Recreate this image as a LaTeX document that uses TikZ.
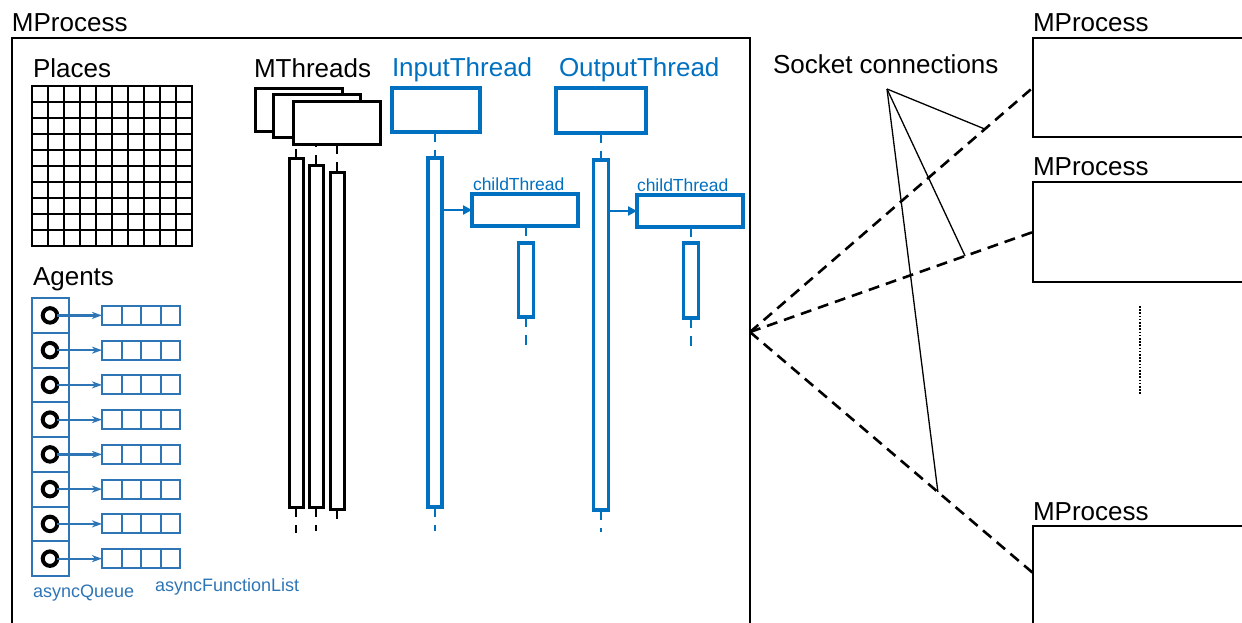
\documentclass[tikz,border=0pt]{standalone}
\usepackage{fontspec}
\setmainfont{Liberation Sans}
\usetikzlibrary{arrows.meta,calc,backgrounds}
\definecolor{thr}{HTML}{0070C0}
\definecolor{agt}{HTML}{2E75B6}

\begin{document}
\begin{tikzpicture}[x=1pt,y=-1pt,
  every node/.style={inner sep=0pt, outer sep=0pt},
  heading/.style={anchor=base west, font=\fontsize{26}{30}\selectfont},
  smalllabel/.style={anchor=base west, font=\fontsize{18}{20}\selectfont},
  procbox/.style={draw, line width=2.5pt, rectangle, anchor=north west},
  mthread/.style={draw, line width=3pt, fill=white, rectangle, minimum width=87pt, minimum height=43pt},
  mbar/.style={draw, line width=3pt, fill=white, rectangle, minimum width=14pt},
  tbox/.style={draw=thr, line width=3.5pt, fill=white, rectangle},
  tbar/.style={draw=thr, line width=3.5pt, fill=white, rectangle, minimum width=14pt},
  lifeK/.style={line width=2.5pt, dash pattern=on 10pt off 8pt},
  lifeB/.style={draw=thr, line width=2.5pt, dash pattern=on 10pt off 8pt},
  spawn/.style={draw=thr, line width=2.5pt, -{Triangle[length=9pt,width=9pt]}},
  gridline/.style={line width=2.5pt, line cap=rect},
  agtline/.style={draw=agt, line width=2pt},
  agentdot/.style={circle, draw, line width=4pt, minimum size=14.5pt, fill=white},
  fnlist/.style={draw=agt, line width=2pt, rectangle, minimum width=78pt, minimum height=19pt},
  agtarrow/.style={draw=agt, line width=2.2pt, -{Stealth[length=10pt,width=7pt,inset=3pt]}},
  socket/.style={line width=2.6pt, dash pattern=on 11pt off 7pt},
  callout/.style={line width=1.3pt},
]
\useasboundingbox (0,0) rectangle (1242,622);
\clip (0,0) rectangle (1242,622);

% ---------- local process ----------
\node[heading] (mpl) at (12,31) {MProcess};
\node[procbox, minimum width=738pt, minimum height=640pt] (main) at (12,38) {};

% Places grid
\node[heading] (places) at (33,77) {Places};
\foreach \i in {0,...,10} {
  \draw[gridline] ({32+\i*16},86) -- ({32+\i*16},246);
  \draw[gridline] (32,{86+\i*16}) -- (192,{86+\i*16});
}

% Agents with their queues and function lists
\node[heading] (agents) at (33,285) {Agents};
\foreach \i in {0,...,7} {
  \pgfmathsetmacro\yc{315.4+34.75*\i}
  \draw[agtline] (32,{298+34.75*\i}) rectangle (69,{298+34.75*(\i+1)});
  \node[agentdot] (q\i) at (50,\yc) {};
  \node[fnlist, anchor=west] (l\i) at (102,\yc) {};
  \foreach \k in {1,2,3}
    \draw[agtline] ($(l\i.south west)+(19.5*\k,0)$) -- ($(l\i.north west)+(19.5*\k,0)$);
  \draw[agtarrow] (q\i.east) -- (l\i.west);
}
\node[smalllabel, text=agt] (aq) at (33,597) {asyncQueue};
\node[smalllabel, text=agt] (afl) at (155,591) {asyncFunctionList};

% MThreads
\node[heading] (mthl) at (254,77) {MThreads};
\node[mthread] (mt1) at (298.5,109.5) {};
\node[mthread] (mt2) at (316.5,115.5) {};
\node[mthread] (mt3) at (336.5,122.5) {};
\node[mbar, minimum height=349pt] (b1) at (296,332.5) {};
\node[mbar, minimum height=342pt] (b2) at (316,336) {};
\node[mbar, minimum height=337pt] (b3) at (337,340.5) {};
\coordinate (e1) at (296,533);
\coordinate (e2) at (316,531);
\coordinate (e3) at (337,525);
\begin{scope}[on background layer]
  \draw[lifeK] (mt1.south -| b1.north) -- (b1.north);
  \draw[lifeK] (mt2.south -| b2.north) -- (b2.north);
  \draw[lifeK] (mt3.south -| b3.north) -- (b3.north);
\end{scope}
\draw[lifeK] (b1.south) -- (e1);
\draw[lifeK] (b2.south) -- (e2);
\draw[lifeK] (b3.south) -- (e3);

% InputThread and its child
\node[heading, text=thr] (itl) at (392,76) {InputThread};
\node[tbox, minimum width=88pt, minimum height=44pt] (it) at (436,110) {};
\node[tbar, minimum height=349pt] (ib) at (435,332.5) {};
\coordinate (ie) at (435,531);
\draw[lifeB] (it.south -| ib.north) -- (ib.north);
\draw[lifeB] (ib.south) -- (ie);
\node[smalllabel, text=thr, font=\fontsize{17.5}{20}\selectfont] (c1l) at (473,190) {childThread};
\node[tbox, minimum width=106pt, minimum height=32pt] (c1) at (525,210) {};
\draw[spawn] (ib.east |- c1.west) -- (c1.west);
\node[tbar, minimum width=15pt, minimum height=74pt] (cb1) at (526,280) {};
\coordinate (c1e) at (526,346);
\draw[lifeB] (c1.south -| cb1.north) -- (cb1.north);
\draw[lifeB] (cb1.south) -- (c1e);

% OutputThread and its child
\node[heading, text=thr] (otl) at (559,76) {OutputThread};
\node[tbox, minimum width=90pt, minimum height=45pt] (ot) at (601,110.5) {};
\node[tbar, minimum width=15pt, minimum height=350pt] (ob) at (601,335) {};
\coordinate (oe) at (601,532);
\draw[lifeB] (ot.south -| ob.north) -- (ob.north);
\draw[lifeB] (ob.south) -- (oe);
\node[smalllabel, text=thr, font=\fontsize{17.5}{20}\selectfont] (c2l) at (637,191) {childThread};
\node[tbox, minimum width=106pt, minimum height=32pt] (c2) at (690,211) {};
\draw[spawn] (ob.east |- c2.west) -- (c2.west);
\node[tbar, minimum width=15pt, minimum height=75pt] (cb2) at (691,280.5) {};
\coordinate (c2e) at (691,346);
\draw[lifeB] (c2.south -| cb2.north) -- (cb2.north);
\draw[lifeB] (cb2.south) -- (c2e);

% ---------- remote processes ----------
\node[heading] (p1l) at (1033,31) {MProcess};
\node[procbox, minimum width=230pt, minimum height=99pt] (p1) at (1033,38) {};
\node[heading] (p2l) at (1033,175.5) {MProcess};
\node[procbox, minimum width=230pt, minimum height=100pt] (p2) at (1033,182) {};
\node[heading] (p3l) at (1033,520) {MProcess};
\node[procbox, minimum width=230pt, minimum height=140pt] (p3) at (1033,526) {};
\coordinate (p3in) at (1033,573);

\coordinate (dt) at (1140,306);
\coordinate (db) at (1140,395);
\draw[line width=1.6pt, dash pattern=on 1.6pt off 1.6pt] (dt) -- (db);

% socket connections
\coordinate (hub) at (750,332);
\draw[socket] (hub) -- (p1.west) coordinate[pos=0.83] (s1);
\draw[socket] (hub) -- (p2.west) coordinate[pos=0.76] (s2);
\draw[socket] (hub) -- (p3in) coordinate[pos=0.664] (s3);

\node[heading] (sock) at (773,73) {Socket connections};
\coordinate (apex) at (887,89);
\draw[callout] (apex) -- (s1);
\draw[callout] (apex) -- (s2);
\draw[callout] (apex) -- (s3);
\end{tikzpicture}
\end{document}
